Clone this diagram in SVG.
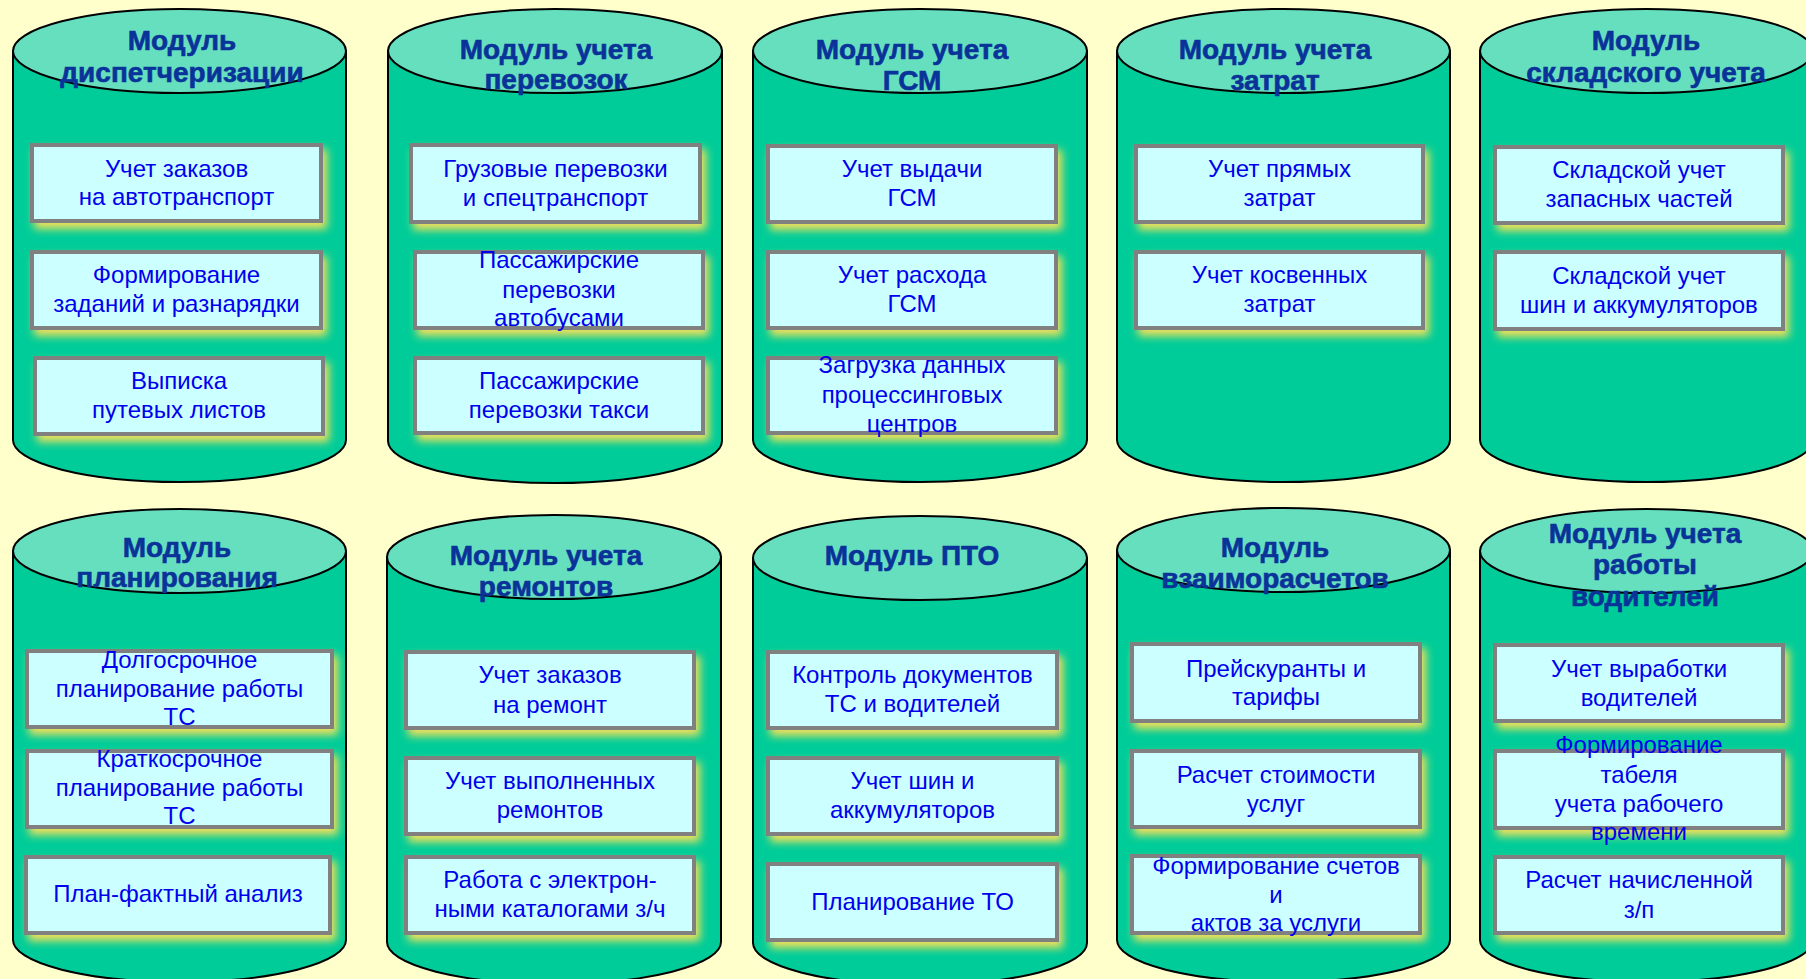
<svg xmlns="http://www.w3.org/2000/svg" width="1806" height="979" viewBox="0 0 1806 979">
<defs>
<filter id="glow" x="-10%" y="-20%" width="125%" height="150%">
<feFlood flood-color="#f2e05a" result="c"/>
<feComposite in="c" in2="SourceAlpha" operator="in" result="s"/>
<feOffset in="s" dx="4" dy="6" result="o"/>
<feGaussianBlur in="o" stdDeviation="4" result="b"/>
<feMerge><feMergeNode in="b"/><feMergeNode in="SourceGraphic"/></feMerge>
</filter>
<style>
.body{fill:#00cc99;stroke:#000;stroke-width:2}
.top{fill:#66dfbf;stroke:#000;stroke-width:2}
.box{fill:#ccffff;stroke:#808080;stroke-width:4;filter:url(#glow)}
.h{font-family:"Liberation Sans",Arial,sans-serif;font-weight:bold;font-size:28px;fill:#0a3399;stroke:#0a3399;stroke-width:0.6;text-anchor:middle}
.t{font-family:"Liberation Sans",Arial,sans-serif;font-size:24px;fill:#0000ee;text-anchor:middle}
</style>
</defs>
<rect width="1806" height="979" fill="#ffffcc"/>
<g id="connectors"/>

<!-- Top row -->
<g id="mod-dispatch">
<path class="body" d="M13,51 V440 A166.5,42 0 0 0 346,440 V51 Z"/>
<ellipse class="top" cx="179.5" cy="51" rx="166.5" ry="42"/>
<text class="h" x="182" y="50">Модуль</text>
<text class="h" x="182" y="82">диспетчеризации</text>
<rect class="box" x="32" y="145" width="289" height="76"/>
<text class="t" x="176.5" y="177">Учет заказов</text>
<text class="t" x="176.5" y="205">на автотранспорт</text>
<rect class="box" x="32" y="252" width="289" height="76"/>
<text class="t" x="176.5" y="283">Формирование</text>
<text class="t" x="176.5" y="312">заданий и разнарядки</text>
<rect class="box" x="35" y="358" width="288" height="76"/>
<text class="t" x="179" y="389">Выписка</text>
<text class="t" x="179" y="418">путевых листов</text>
</g>

<g id="mod-transport">
<path class="body" d="M388,51 V441 A167,42 0 0 0 722,441 V51 Z"/>
<ellipse class="top" cx="555" cy="51" rx="167" ry="42"/>
<text class="h" x="556" y="59">Модуль учета</text>
<text class="h" x="556" y="89">перевозок</text>
<rect class="box" x="411" y="145" width="289" height="77"/>
<text class="t" x="555.5" y="177">Грузовые перевозки</text>
<text class="t" x="555.5" y="206">и спецтранспорт</text>
<rect class="box" x="415" y="252" width="288" height="76"/>
<text class="t" x="559" y="268">Пассажирские</text>
<text class="t" x="559" y="298">перевозки</text>
<text class="t" x="559" y="326">автобусами</text>
<rect class="box" x="415" y="358" width="288" height="75"/>
<text class="t" x="559" y="389">Пассажирские</text>
<text class="t" x="559" y="418">перевозки такси</text>
</g>

<g id="mod-fuel">
<path class="body" d="M753,51 V440 A167,42 0 0 0 1087,440 V51 Z"/>
<ellipse class="top" cx="920" cy="51" rx="167" ry="42"/>
<text class="h" x="912" y="59">Модуль учета</text>
<text class="h" x="912" y="90">ГСМ</text>
<rect class="box" x="768" y="146" width="288" height="76"/>
<text class="t" x="912" y="177">Учет выдачи</text>
<text class="t" x="912" y="206">ГСМ</text>
<rect class="box" x="768" y="252" width="288" height="76"/>
<text class="t" x="912" y="283">Учет расхода</text>
<text class="t" x="912" y="312">ГСМ</text>
<rect class="box" x="768" y="358" width="288" height="75"/>
<text class="t" x="912" y="373">Загрузка данных</text>
<text class="t" x="912" y="403">процессинговых</text>
<text class="t" x="912" y="432">центров</text>
</g>

<g id="mod-costs">
<path class="body" d="M1117,51 V440 A166.5,42 0 0 0 1450,440 V51 Z"/>
<ellipse class="top" cx="1283.5" cy="51" rx="166.5" ry="42"/>
<text class="h" x="1275" y="59">Модуль учета</text>
<text class="h" x="1275" y="90">затрат</text>
<rect class="box" x="1136" y="146" width="287" height="76"/>
<text class="t" x="1279.5" y="177">Учет прямых</text>
<text class="t" x="1279.5" y="206">затрат</text>
<rect class="box" x="1136" y="252" width="287" height="76"/>
<text class="t" x="1279.5" y="283">Учет косвенных</text>
<text class="t" x="1279.5" y="312">затрат</text>
</g>

<g id="mod-warehouse">
<path class="body" d="M1480,51 V440 A166.5,42 0 0 0 1813,440 V51 Z"/>
<ellipse class="top" cx="1646.5" cy="51" rx="166.5" ry="42"/>
<text class="h" x="1646" y="50">Модуль</text>
<text class="h" x="1646" y="82">складского учета</text>
<rect class="box" x="1495" y="147" width="288" height="76"/>
<text class="t" x="1639" y="178">Складской учет</text>
<text class="t" x="1639" y="207">запасных частей</text>
<rect class="box" x="1495" y="252" width="288" height="77"/>
<text class="t" x="1639" y="284">Складской учет</text>
<text class="t" x="1639" y="313">шин и аккумуляторов</text>
</g>

<!-- Bottom row -->
<g id="mod-planning">
<path class="body" d="M13,551 V940 A166.5,42 0 0 0 346,940 V551 Z"/>
<ellipse class="top" cx="179.5" cy="551" rx="166.5" ry="42"/>
<text class="h" x="177" y="557">Модуль</text>
<text class="h" x="177" y="587">планирования</text>
<rect class="box" x="27" y="651" width="305" height="76"/>
<text class="t" x="179.5" y="668">Долгосрочное</text>
<text class="t" x="179.5" y="697">планирование работы</text>
<text class="t" x="179.5" y="725">ТС</text>
<rect class="box" x="27" y="751" width="305" height="76"/>
<text class="t" x="179.5" y="767">Краткосрочное</text>
<text class="t" x="179.5" y="796">планирование работы</text>
<text class="t" x="179.5" y="824">ТС</text>
<rect class="box" x="26" y="857" width="304" height="76"/>
<text class="t" x="178" y="902">План-фактный анализ</text>
</g>

<g id="mod-repairs">
<path class="body" d="M387,557 V942 A167,42 0 0 0 721,942 V557 Z"/>
<ellipse class="top" cx="554" cy="557" rx="167" ry="42"/>
<text class="h" x="546" y="565">Модуль учета</text>
<text class="h" x="546" y="596">ремонтов</text>
<rect class="box" x="406" y="652" width="288" height="76"/>
<text class="t" x="550" y="683">Учет заказов</text>
<text class="t" x="550" y="713">на ремонт</text>
<rect class="box" x="406" y="758" width="288" height="76"/>
<text class="t" x="550" y="789">Учет выполненных</text>
<text class="t" x="550" y="818">ремонтов</text>
<rect class="box" x="406" y="857" width="288" height="76"/>
<text class="t" x="550" y="888">Работа с электрон-</text>
<text class="t" x="550" y="917">ными каталогами з/ч</text>
</g>

<g id="mod-pto">
<path class="body" d="M753,558 V943 A167,42 0 0 0 1087,943 V558 Z"/>
<ellipse class="top" cx="920" cy="558" rx="167" ry="42"/>
<text class="h" x="912" y="565">Модуль ПТО</text>
<rect class="box" x="768" y="652" width="289" height="76"/>
<text class="t" x="912.5" y="683">Контроль документов</text>
<text class="t" x="912.5" y="712">ТС и водителей</text>
<rect class="box" x="768" y="758" width="289" height="76"/>
<text class="t" x="912.5" y="789">Учет шин и</text>
<text class="t" x="912.5" y="818">аккумуляторов</text>
<rect class="box" x="768" y="864" width="289" height="76"/>
<text class="t" x="912.5" y="910">Планирование ТО</text>
</g>

<g id="mod-settlements">
<path class="body" d="M1117,550 V940 A166.5,42 0 0 0 1450,940 V550 Z"/>
<ellipse class="top" cx="1283.5" cy="550" rx="166.5" ry="42"/>
<text class="h" x="1275" y="557">Модуль</text>
<text class="h" x="1275" y="588">взаиморасчетов</text>
<rect class="box" x="1132" y="644" width="288" height="77"/>
<text class="t" x="1276" y="677">Прейскуранты и</text>
<text class="t" x="1276" y="705">тарифы</text>
<rect class="box" x="1132" y="751" width="288" height="76"/>
<text class="t" x="1276" y="783">Расчет стоимости</text>
<text class="t" x="1276" y="812">услуг</text>
<rect class="box" x="1132" y="856" width="288" height="77"/>
<text class="t" x="1276" y="874">Формирование счетов</text>
<text class="t" x="1276" y="903">и</text>
<text class="t" x="1276" y="931">актов за услуги</text>
</g>

<g id="mod-drivers">
<path class="body" d="M1480,551 V940 A166.5,42 0 0 0 1813,940 V551 Z"/>
<ellipse class="top" cx="1646.5" cy="551" rx="166.5" ry="42"/>
<text class="h" x="1645" y="543">Модуль учета</text>
<text class="h" x="1645" y="574">работы</text>
<text class="h" x="1645" y="606">водителей</text>
<rect class="box" x="1495" y="645" width="288" height="76"/>
<text class="t" x="1639" y="677">Учет выработки</text>
<text class="t" x="1639" y="706">водителей</text>
<rect class="box" x="1495" y="751" width="288" height="77"/>
<text class="t" x="1639" y="753">Формирование</text>
<text class="t" x="1639" y="783">табеля</text>
<text class="t" x="1639" y="812">учета рабочего</text>
<text class="t" x="1639" y="840">времени</text>
<rect class="box" x="1495" y="857" width="288" height="76"/>
<text class="t" x="1639" y="888">Расчет начисленной</text>
<text class="t" x="1639" y="918">з/п</text>
</g>
</svg>
